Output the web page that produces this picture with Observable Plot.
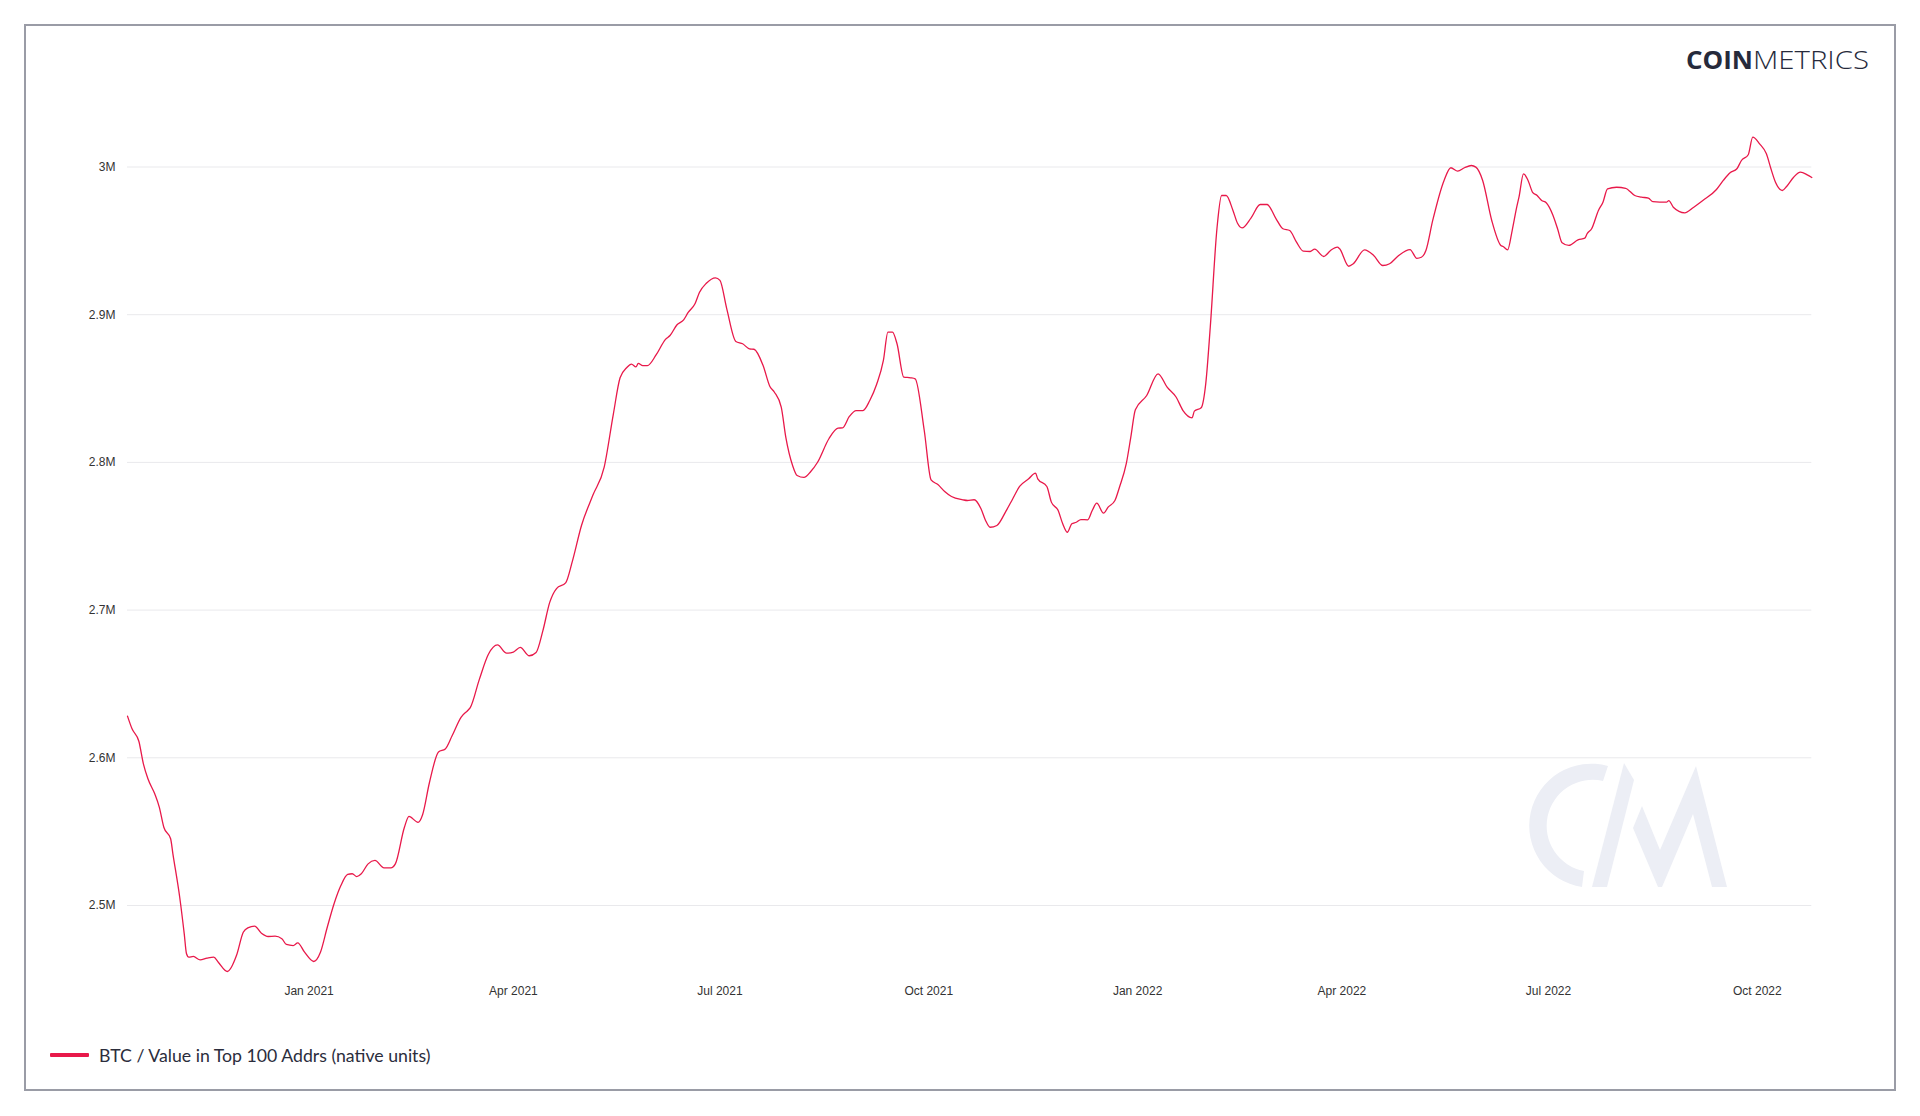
<!DOCTYPE html>
<html>
<head>
<meta charset="utf-8">
<script src="https://cdn.jsdelivr.net/npm/d3@7"></script>
<script src="https://cdn.jsdelivr.net/npm/@observablehq/plot@0.6"></script>
<style>
  html, body { margin: 0; padding: 0; background: #ffffff; }
  #page { position: relative; width: 1920px; height: 1116px; overflow: hidden; background: #fff; }
  #frame { position: absolute; left: 24px; top: 24px; width: 1872px; height: 1067px; box-sizing: border-box; border: 2px solid #9a9ca6; }
  #chart { position: absolute; left: 0; top: 0; }
  #legend { position: absolute; left: 50px; top: 1043px; height: 24px; display: flex; align-items: center; font-family: Lato, "Open Sans", sans-serif; font-size: 17.7px; color: #2b2d3c; }
  #legend .sw { width: 39px; height: 4px; background: #e8194a; margin-right: 10px; border-radius: 1px; }
  #overlay { position: absolute; left: 0; top: 0; pointer-events: none; }
</style>
</head>
<body>
<div id="page">
  <div id="frame"></div>
  <svg id="overlay" width="1920" height="1116">
    <!-- watermark -->
    <g fill="#eceef5" stroke="none">
      <path d="M 1608 766 A 62 62 0 1 0 1582 887 L 1584 871 A 46 46 0 1 1 1603 781 Z"/>
      <path d="M 1592 887 L 1607 887 L 1634 780 L 1624 763 Z"/>
      <path d="M 1633 828 L 1642 806 L 1660 850 L 1696 766 L 1727 887 L 1712 887 L 1693 814 L 1662 887 L 1658 887 Z"/>
    </g>
    <!-- logo -->
    <text x="1686" y="69" font-family="'Open Sans', Lato, sans-serif" font-size="25" fill="#262a3b">
      <tspan font-weight="700" textLength="67" lengthAdjust="spacingAndGlyphs">COIN</tspan><tspan font-weight="300" textLength="116" lengthAdjust="spacingAndGlyphs">METRICS</tspan>
    </text>
  </svg>
  <div id="chart"></div>
  <div id="legend"><div class="sw"></div><span id="legendText"></span></div>
</div>
<script>
const seriesName = "BTC / Value in Top 100 Addrs (native units)";
const lineColor = "#e8194a";

const dates = [
  "2020-10-13","2020-10-15","2020-10-18","2020-10-20","2020-10-22","2020-10-25","2020-10-27","2020-10-29",
  "2020-11-01","2020-11-02","2020-11-05","2020-11-07","2020-11-08","2020-11-09","2020-11-11","2020-11-14",
  "2020-11-17","2020-11-20","2020-11-22","2020-11-26","2020-11-30","2020-12-03","2020-12-05","2020-12-08",
  "2020-12-11","2020-12-14","2020-12-17","2020-12-20","2020-12-22","2020-12-25","2020-12-27","2020-12-30",
  "2021-01-03","2021-01-06","2021-01-09","2021-01-12","2021-01-15","2021-01-18","2021-01-20","2021-01-22",
  "2021-01-24","2021-01-27","2021-01-30","2021-02-03","2021-02-06","2021-02-08","2021-02-12","2021-02-14",
  "2021-02-18","2021-02-20","2021-02-23","2021-02-27","2021-03-02","2021-03-05","2021-03-09","2021-03-12",
  "2021-03-13","2021-03-17","2021-03-21","2021-03-25","2021-03-29","2021-04-01","2021-04-04","2021-04-08",
  "2021-04-11","2021-04-14","2021-04-17","2021-04-20","2021-04-24","2021-04-27","2021-05-01","2021-05-06",
  "2021-05-11","2021-05-15","2021-05-18","2021-05-21","2021-05-23","2021-05-25","2021-05-26","2021-05-28",
  "2021-05-30","2021-06-03","2021-06-07","2021-06-09","2021-06-12","2021-06-15","2021-06-17","2021-06-20",
  "2021-06-22","2021-06-25","2021-06-29","2021-07-01","2021-07-04","2021-07-08","2021-07-11","2021-07-14",
  "2021-07-16","2021-07-20","2021-07-23","2021-07-25","2021-07-28","2021-07-30","2021-08-02","2021-08-04",
  "2021-08-07","2021-08-10","2021-08-13","2021-08-18","2021-08-22","2021-08-24","2021-08-27","2021-08-30",
  "2021-09-02","2021-09-05","2021-09-08","2021-09-11","2021-09-13","2021-09-15","2021-09-17","2021-09-20",
  "2021-09-23","2021-09-25","2021-09-29","2021-10-02","2021-10-05","2021-10-08","2021-10-11","2021-10-16",
  "2021-10-18","2021-10-21","2021-10-24","2021-10-26","2021-10-28","2021-10-31","2021-11-04","2021-11-07",
  "2021-11-10","2021-11-14","2021-11-17","2021-11-18","2021-11-22","2021-11-24","2021-11-27","2021-11-29",
  "2021-12-01","2021-12-03","2021-12-05","2021-12-07","2021-12-10","2021-12-12","2021-12-14","2021-12-17",
  "2021-12-19","2021-12-22","2021-12-24","2021-12-27","2021-12-29","2021-12-31","2022-01-05","2022-01-10",
  "2022-01-14","2022-01-18","2022-01-21","2022-01-25","2022-01-26","2022-01-29","2022-01-31","2022-02-02",
  "2022-02-05","2022-02-07","2022-02-09","2022-02-12","2022-02-14","2022-02-16","2022-02-20","2022-02-24",
  "2022-02-27","2022-03-03","2022-03-06","2022-03-09","2022-03-12","2022-03-15","2022-03-18","2022-03-20",
  "2022-03-24","2022-03-27","2022-03-30","2022-03-31","2022-04-04","2022-04-06","2022-04-11","2022-04-15",
  "2022-04-19","2022-04-22","2022-04-26","2022-05-01","2022-05-04","2022-05-06","2022-05-08","2022-05-11",
  "2022-05-16","2022-05-19","2022-05-22","2022-05-25","2022-05-28","2022-05-30","2022-06-02","2022-06-06",
  "2022-06-10","2022-06-11","2022-06-13","2022-06-15","2022-06-17","2022-06-18","2022-06-20","2022-06-22",
  "2022-06-24","2022-06-26","2022-06-28","2022-06-30","2022-07-03","2022-07-05","2022-07-07","2022-07-10",
  "2022-07-14","2022-07-17","2022-07-18","2022-07-20","2022-07-23","2022-07-25","2022-07-27","2022-07-31",
  "2022-08-04","2022-08-08","2022-08-11","2022-08-14","2022-08-16","2022-08-22","2022-08-23","2022-08-25",
  "2022-08-30","2022-09-03","2022-09-07","2022-09-13","2022-09-16","2022-09-19","2022-09-22","2022-09-24",
  "2022-09-27","2022-09-29","2022-10-02","2022-10-05","2022-10-07","2022-10-09","2022-10-12","2022-10-14",
  "2022-10-17","2022-10-20","2022-10-23","2022-10-25"
];

const values = [
  2628200,2619600,2611200,2595900,2585800,2575600,2566600,2553000,
  2545200,2535000,2505600,2480800,2467300,2465000,2465500,2463200,
  2464300,2465000,2461600,2455300,2466100,2481900,2484900,2486000,
  2481200,2479000,2479200,2477500,2473600,2472900,2474700,2468400,
  2462100,2468400,2485300,2501200,2513500,2521000,2521500,2519600,
  2521500,2528200,2530500,2525500,2525500,2528200,2553000,2560300,
  2556300,2561500,2583100,2603900,2606000,2614900,2627600,2632200,
  2634000,2653100,2670100,2676400,2670900,2671600,2674700,2669100,
  2671300,2686100,2705200,2714600,2718400,2733200,2757300,2777700,
  2796800,2832400,2857300,2864300,2866600,2864700,2867000,2865500,
  2865500,2873100,2883300,2885900,2893000,2896500,2901500,2907400,
  2915200,2921300,2925000,2923200,2904000,2881900,2880300,2876900,
  2876600,2865600,2851400,2847500,2837400,2817100,2797900,2791100,
  2789800,2793800,2800100,2816000,2823200,2823400,2831100,2835100,
  2835100,2841900,2852700,2869000,2888200,2888200,2880300,2857700,
  2857300,2856600,2821600,2788200,2785000,2780300,2776900,2774700,
  2774200,2774700,2768600,2760700,2756100,2757300,2767000,2775400,
  2783700,2788900,2792700,2788900,2783700,2773100,2767400,2758400,
  2752700,2758400,2759500,2761300,2761100,2767400,2772400,2765600,
  2769700,2774200,2783200,2799100,2817100,2835600,2845300,2860000,
  2850900,2844100,2835100,2830200,2834700,2837000,2853200,2891500,
  2959200,2980700,2980700,2970600,2961900,2958800,2965600,2974600,
  2974600,2964900,2958200,2957000,2949100,2943000,2942800,2944400,
  2939400,2943500,2945700,2944600,2932800,2934500,2943900,2940100,
  2933300,2934500,2940100,2944100,2938200,2938900,2943500,2963800,
  2990900,2999500,2997200,2999500,3001000,2999900,2990900,2963800,
  2946900,2946200,2943900,2957000,2972800,2979600,2995400,2990900,
  2982900,2980700,2977300,2975800,2967200,2958200,2948700,2946900,
  2950700,2951800,2954800,2958200,2970600,2976200,2985200,2986300,
  2985600,2980700,2979600,2978900,2976600,2976200,2977300,2972800,
  2969000,2972800,2977300,2984800,2990900,2996100,2998800,3004400,
  3008300,3020200,3015700,3008900,2998800,2989700,2984100,2987000,
  2993100,2996500,2994700,2992900
];

const yTicks = [2500000, 2600000, 2700000, 2800000, 2900000, 3000000];
const yTickLabels = ["2.5M", "2.6M", "2.7M", "2.8M", "2.9M", "3M"];
const xTicks = ["2021-01-01","2021-04-01","2021-07-01","2021-10-01","2022-01-01","2022-04-01","2022-07-01","2022-10-01"];
const xTickLabels = ["Jan 2021","Apr 2021","Jul 2021","Oct 2021","Jan 2022","Apr 2022","Jul 2022","Oct 2022"];

const data = dates.map((d, i) => ({date: new Date(d + "T00:00:00Z"), value: values[i]}));
const xTickDates = xTicks.map(d => new Date(d + "T00:00:00Z"));
const yLabelOf = v => yTickLabels[yTicks.indexOf(v)];
const xLabelOf = d => xTickLabels[xTickDates.findIndex(t => +t === +d)];

const chart = Plot.plot({
  width: 1920,
  height: 1010,
  marginLeft: 127,
  marginRight: 108.7,
  marginTop: 92.65,
  marginBottom: 31.15,
  style: {fontFamily: "'Liberation Sans', Arial, Helvetica, sans-serif", fontSize: "12px", color: "#333333", background: "transparent", overflow: "visible"},
  x: {type: "utc", domain: [data[0].date, data[data.length - 1].date], label: null},
  y: {domain: [2450000, 3050000], label: null},
  marks: [
    Plot.gridY(yTicks, {stroke: "#e9e9ec", strokeOpacity: 1, strokeWidth: 1}),
    Plot.axisY(yTicks, {tickSize: 0, tickPadding: 12, tickFormat: yLabelOf, fontSize: 12, label: null}),
    Plot.axisX(xTickDates, {tickSize: 0, tickPadding: 7, tickFormat: xLabelOf, fontSize: 12, label: null}),
    Plot.lineY(data, {x: "date", y: "value", stroke: lineColor, strokeWidth: 1.3, curve: "monotone-x"})
  ]
});
document.getElementById("chart").appendChild(chart);
document.getElementById("legendText").textContent = seriesName;
</script>
</body>
</html>
